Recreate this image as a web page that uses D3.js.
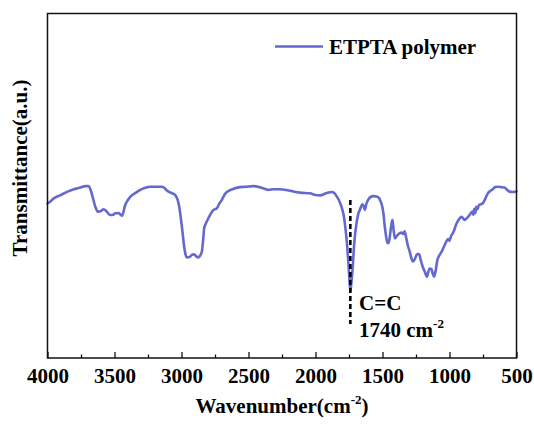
<!DOCTYPE html>
<html>
<head>
<meta charset="utf-8">
<script src="https://cdn.jsdelivr.net/npm/d3@7"></script>
<style>
  html, body { margin: 0; padding: 0; background: #fff; overflow: hidden; }
  svg { display: block; }
  .serif { font-family: 'Liberation Serif', 'Times New Roman', serif; font-weight: bold; }
</style>
</head>
<body>
<svg id="chart" width="534" height="425"></svg>
<script>
// FTIR spectrum of the ETPTA polymer: wavenumber (cm-1) and transmittance (a.u.)
const wavenumbers = [
  4000, 3990, 3950, 3903, 3850, 3804, 3760, 3717, 3693, 3667, 3643, 3625, 3605, 3581, 3560,
  3531, 3510, 3494, 3470, 3455, 3444, 3420, 3382, 3340, 3307, 3270, 3233, 3146, 3125, 3109,
  3075, 3047, 3022, 3008, 2997, 2980, 2968, 2960, 2940, 2923, 2905, 2890, 2873, 2860, 2848,
  2838, 2831, 2815, 2799, 2780, 2766, 2736, 2715, 2699, 2680, 2667, 2620, 2563, 2520, 2464,
  2420, 2380, 2352, 2310, 2265, 2200, 2116, 2041, 2000, 1967, 1920, 1880, 1860, 1843, 1825,
  1806, 1790, 1781, 1768, 1756, 1748, 1740, 1733, 1723, 1711, 1694, 1680, 1669, 1649, 1640,
  1632, 1620, 1607, 1590, 1570, 1545, 1525, 1515, 1508, 1495, 1480, 1466, 1458, 1448, 1438,
  1426, 1418, 1408, 1395, 1380, 1359, 1345, 1335, 1322, 1310, 1297, 1285, 1272, 1258, 1240,
  1227, 1215, 1200, 1185, 1168, 1158, 1148, 1135, 1125, 1116, 1105, 1090, 1074, 1060, 1045,
  1024, 1010, 1000, 990, 969, 950, 930, 912, 900, 887, 870, 850, 830, 822, 815,
  808, 800, 792, 780, 751, 730, 714, 695, 677, 660, 640, 615, 590, 570, 552,
  525, 500
];
const transmittance = [
  44.9, 45.1, 46.4, 47.3, 48.3, 49.0, 49.4, 49.9, 49.9, 47.3, 43.9, 42.5, 42.6, 43.2, 42.6,
  41.5, 41.6, 42.0, 42.1, 41.6, 41.3, 44.4, 46.8, 48.0, 48.8, 49.4, 49.7, 49.7, 49.3, 48.6,
  47.9, 47.3, 44.9, 41.5, 38.1, 32.3, 29.8, 29.2, 29.3, 29.9, 30.1, 29.5, 29.2, 29.8, 30.9,
  34.5, 37.6, 39.3, 40.6, 42.0, 42.8, 43.5, 45.0, 45.9, 47.3, 48.0, 49.0, 49.6, 49.7, 49.9,
  49.6, 49.1, 48.8, 49.0, 49.0, 48.6, 48.0, 47.8, 47.3, 47.2, 47.8, 48.2, 47.9, 47.0, 45.8,
  43.9, 41.5, 39.1, 34.5, 28.4, 23.5, 19.3, 21.5, 26.0, 33.3, 39.1, 42.0, 43.0, 44.6, 44.0,
  43.0, 44.8, 45.9, 46.7, 47.0, 46.9, 46.4, 45.5, 44.9, 42.5, 37.2, 33.8, 33.3, 34.5, 37.5,
  40.1, 37.5, 34.7, 35.3, 36.0, 36.4, 36.0, 36.8, 34.7, 32.5, 30.9, 29.0, 28.0, 28.8, 30.2,
  30.2, 28.5, 26.5, 25.1, 23.6, 25.0, 26.0, 25.8, 24.5, 23.6, 25.0, 28.5, 29.9, 30.8, 32.0,
  33.8, 34.5, 34.0, 35.2, 36.7, 38.8, 40.2, 41.0, 40.6, 40.1, 40.6, 41.5, 42.5, 41.6, 43.3,
  42.0, 43.9, 43.2, 44.4, 44.9, 46.5, 47.8, 48.5, 49.0, 49.6, 49.7, 49.6, 49.5, 48.8, 48.3,
  48.2, 48.3
];
const majorTicks = [4000, 3500, 3000, 2500, 2000, 1500, 1000, 500];
const minorTicks = [3750, 3250, 2750, 2250, 1750, 1250, 750];
const seriesName = "ETPTA polymer";
const peakPosition = 1740;

const spectrum = wavenumbers.map((w, i) => ({ w, t: transmittance[i] }));

const svg = d3.select("#chart");
const plotLeft = 47.5, plotRight = 516.5, plotTop = 13.5, plotBottom = 358;
const lineColor = "#6469cf";

// bold serif label helper
function label(sel, size) {
  return sel.attr("class", "serif").attr("font-family", null)
    .attr("font-size", size).attr("fill", "#000");
}

const x = d3.scaleLinear().domain([4000, 500]).range([plotLeft, plotRight]);
const y = d3.scaleLinear().domain([0, 100]).range([plotBottom, plotTop]);

// spectrum trace
const line = d3.line().x(d => x(d.w)).y(d => y(d.t)).curve(d3.curveMonotoneX);
svg.append("path")
  .datum(spectrum)
  .attr("d", line)
  .attr("fill", "none")
  .attr("stroke", lineColor)
  .attr("stroke-width", 2.6)
  .attr("stroke-linejoin", "round")
  .attr("stroke-linecap", "round");

// plot frame
svg.append("rect")
  .attr("x", plotLeft).attr("y", plotTop)
  .attr("width", plotRight - plotLeft).attr("height", plotBottom - plotTop)
  .attr("fill", "none").attr("stroke", "#111").attr("stroke-width", 1.5);

// bottom axis: minor ticks, then major ticks with labels
svg.append("g")
  .attr("transform", `translate(0,${plotBottom})`)
  .call(d3.axisBottom(x).tickValues(minorTicks).tickSize(-3.5).tickFormat(""))
  .call(g => g.select(".domain").remove())
  .call(g => g.selectAll("line").attr("stroke", "#111").attr("stroke-width", 1.3));

const xAxis = svg.append("g")
  .attr("transform", `translate(0,${plotBottom})`)
  .call(d3.axisBottom(x).tickValues(majorTicks).tickSize(-6).tickFormat(d3.format("d")))
  .call(g => g.select(".domain").remove())
  .call(g => g.selectAll("line").attr("stroke", "#111").attr("stroke-width", 1.3));
xAxis.attr("font-family", null).attr("font-size", null);
label(xAxis.selectAll("text").attr("y", 25).attr("dy", 0), 21);

// axis titles
const xTitle = label(svg.append("text")
  .attr("x", (plotLeft + plotRight) / 2).attr("y", 413)
  .attr("text-anchor", "middle"), 21);
xTitle.append("tspan").text("Wavenumber(cm");
xTitle.append("tspan").attr("font-size", 13).attr("dy", -9).text("-2");
xTitle.append("tspan").attr("dy", 9).text(")");

label(svg.append("text")
  .attr("transform", `translate(27,168) rotate(-90)`)
  .attr("text-anchor", "middle"), 21)
  .text("Transmittance(a.u.)");

// legend
svg.append("line")
  .attr("x1", 275).attr("x2", 323).attr("y1", 46.5).attr("y2", 46.5)
  .attr("stroke", lineColor).attr("stroke-width", 2.6);
label(svg.append("text").attr("x", 329).attr("y", 54), 21)
  .text(seriesName);

// C=C stretching band marker
svg.append("line")
  .attr("x1", x(peakPosition)).attr("x2", x(peakPosition))
  .attr("y1", 200).attr("y2", 324)
  .attr("stroke", "#000").attr("stroke-width", 2.6)
  .attr("stroke-dasharray", "5,3");
label(svg.append("text").attr("x", 359).attr("y", 310), 21)
  .text("C=C");
const peakLabel = label(svg.append("text").attr("x", 359).attr("y", 337), 21);
peakLabel.append("tspan").text(`${peakPosition} cm`);
peakLabel.append("tspan").attr("font-size", 13).attr("dy", -9).text("-2");
</script>
</body>
</html>
